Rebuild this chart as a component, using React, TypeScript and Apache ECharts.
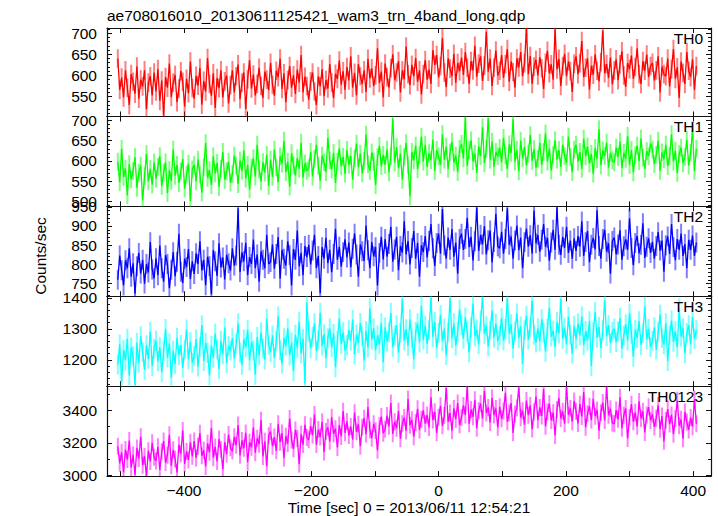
import React, { useEffect, useRef } from 'react';
import * as echarts from 'echarts';

const TITLE = 'ae708016010_20130611125421_wam3_trn_4band_long.qdp';
const X_NAME = 'Time [sec] 0 = 2013/06/11 12:54:21';
const Y_NAME = 'Counts/sec';
const PANEL_NAMES = ['TH0', 'TH1', 'TH2', 'TH3', 'TH0123'];
const COLORS = ['#ff0000', '#00ff00', '#0000ff', '#00ffff', '#ff00ff'];
const Y_MIN = [503, 487, 717, 1115, 2997];
const Y_MAX = [712, 710, 951, 1405, 3548];
const Y_MAJOR = [50, 50, 50, 100, 200];
const Y_SPLIT = [5, 5, 5, 3, 3];
const Y_MINOR = [5, 5, 5, 5, 2];
const X_MIN = -521;
const X_MAX = 428;
const X_LABEL_STEP = 200;
const TIME_START = -504;
const TIME_STEP = 3;
// typical 1-sigma error bar, one per panel
const ERRORS = [22, 22, 26, 32, 52];

const TH0 = [
  640, 566, 595, 548, 612, 571, 530, 603, 585, 557, 621, 545, 590, 574, 612, 520, 583, 598, 553, 607,
  562, 615, 540, 588, 505, 596, 571, 628, 549, 583, 601, 537, 569, 610, 585, 526, 592, 558, 633, 570,
  545, 599, 576, 618, 531, 587, 562, 641, 580, 552, 605, 523, 594, 570, 612, 548, 586, 600, 534, 577,
  612, 560, 598, 626, 544, 583, 607, 521, 591, 636, 569, 602, 553, 580, 618, 575, 547, 609, 590, 565,
  630, 578, 552, 611, 596, 640, 568, 605, 537, 589, 622, 571, 600, 556, 614, 583, 648, 560, 597, 575,
  543, 586, 607, 562, 530, 598, 574, 615, 551, 589, 569, 627, 583, 546, 604, 592, 635, 578, 610, 566,
  620, 588, 645, 571, 606, 553, 627, 598, 580, 612, 561, 639, 593, 617, 575, 600, 664, 582, 609, 548,
  628, 596, 571, 617, 650, 589, 607, 634, 560, 612, 591, 668, 603, 577, 625, 598, 641, 585, 612, 555,
  603, 636, 590, 614, 580, 660, 625, 648, 595, 622, 688, 607, 572, 640, 616, 598, 651, 583, 629, 610,
  642, 601, 655, 618, 580, 634, 612, 670, 597, 628, 645, 587, 623, 703, 609, 640, 575, 618, 659, 600,
  611, 648, 594, 627, 662, 585, 633, 608, 571, 640, 619, 655, 598, 629, 712, 603, 646, 580, 621, 637,
  600, 643, 617, 568, 630, 658, 605, 626, 590, 709, 614, 639, 575, 622, 651, 598, 633, 610, 561, 628,
  645, 603, 629, 681, 596, 618, 640, 567, 623, 602, 650, 611, 586, 631, 706, 605, 627, 594, 642, 579,
  612, 638, 589, 626, 657, 600, 573, 629, 615, 647, 592, 620, 664, 603, 580, 634, 611, 649, 596, 622,
  630, 588, 612, 645, 560, 621, 603, 598, 640, 574, 615, 662, 592, 619, 547, 633, 606, 580, 655, 611,
  596, 638, 566, 622,
];

const TH1 = [
  598, 547, 630, 560, 581, 515, 592, 554, 575, 609, 533, 570, 588, 502, 562, 617, 549, 580, 541, 596,
  556, 585, 612, 538, 571, 596, 520, 577, 550, 628, 563, 590, 545, 574, 605, 531, 566, 593, 500, 579,
  590, 549, 603, 566, 521, 584, 644, 558, 577, 540, 611, 569, 595, 535, 580, 622, 553, 574, 598, 546,
  567, 613, 588, 542, 601, 575, 626, 556, 590, 529, 583, 606, 561, 640, 578, 549, 597, 571, 615, 538,
  603, 560, 628, 584, 547, 611, 593, 650, 572, 598, 536, 619, 589, 564, 607, 580, 645, 558, 594, 575,
  582, 622, 561, 605, 640, 588, 551, 613, 596, 572, 657, 601, 579, 620, 545, 598, 631, 586, 610, 568,
  627, 590, 612, 553, 606, 643, 584, 618, 569, 600, 665, 592, 575, 621, 598, 540, 609, 637, 587, 615,
  590, 628, 571, 612, 705, 596, 634, 582, 618, 553, 609, 644, 590, 512, 622, 601, 638, 579, 614, 660,
  598, 640, 585, 619, 602, 653, 575, 627, 611, 590, 666, 603, 635, 580, 621, 648, 596, 613, 572, 630,
  642, 606, 708, 588, 627, 651, 599, 618, 570, 636, 612, 683, 594, 629, 705, 603, 648, 585, 622, 611,
  632, 596, 657, 613, 580, 641, 620, 703, 598, 627, 574, 650, 606, 635, 589, 618, 664, 600, 629, 583,
  605, 645, 590, 622, 668, 598, 631, 576, 615, 651, 603, 627, 585, 640, 612, 595, 660, 610, 572, 628,
  640, 598, 622, 580, 655, 611, 636, 593, 617, 568, 632, 604, 679, 589, 626, 612, 645, 583, 620, 601,
  596, 633, 610, 648, 582, 620, 605, 662, 590, 627, 571, 614, 638, 599, 655, 608, 580, 624, 612, 643,
  628, 592, 615, 650, 575, 621, 604, 640, 587, 612, 666, 598, 625, 570, 617, 633, 594, 610, 652, 588,
  620, 676, 575, 630,
];

const TH2 = [
  760, 823, 785, 745, 811, 790, 842, 768, 803, 724, 795, 830, 776, 812, 750, 801, 779, 858, 787, 764,
  816, 772, 849, 790, 755, 824, 801, 738, 786, 832, 769, 807, 880, 781, 752, 815, 793, 840, 762, 808,
  775, 829, 801, 860, 784, 812, 746, 820, 795, 722, 837, 808, 770, 855, 792, 818, 761, 825, 803, 784,
  842, 797, 823, 946, 780, 831, 808, 856, 772, 819, 801, 865, 790, 826, 755, 834, 812, 790, 877, 801,
  806, 852, 789, 827, 871, 763, 838, 815, 797, 860, 824, 745, 840, 812, 888, 795, 830, 772, 848, 819,
  851, 800, 836, 877, 790, 822, 725, 845, 815, 869, 803, 838, 780, 827, 893, 812, 846, 794, 832, 865,
  818, 857, 793, 841, 880, 826, 768, 852, 834, 809, 901, 837, 790, 858, 821, 845, 745, 830, 872, 813,
  866, 820, 853, 898, 807, 839, 872, 785, 848, 831, 912, 826, 861, 800, 843, 887, 815, 856, 768, 850,
  832, 874, 818, 861, 905, 842, 796, 856, 880, 828, 944, 849, 815, 870, 838, 892, 820, 857, 776, 866,
  880, 838, 866, 921, 845, 872, 810, 860, 948, 835, 877, 852, 900, 826, 863, 888, 805, 858, 932, 847,
  842, 885, 828, 866, 946, 851, 873, 815, 862, 901, 837, 870, 790, 858, 893, 846, 876, 828, 940, 855,
  877, 833, 864, 905, 846, 869, 810, 857, 890, 838, 949, 851, 825, 872, 843, 898, 830, 862, 815, 868,
  835, 874, 846, 912, 822, 858, 887, 806, 851, 869, 839, 941, 848, 815, 866, 890, 833, 855, 776, 861,
  870, 826, 852, 889, 812, 847, 865, 838, 920, 843, 798, 856, 874, 829, 851, 907, 817, 846, 868, 830,
  859, 815, 848, 884, 836, 862, 781, 850, 873, 827, 905, 845, 811, 866, 838, 880, 822, 853, 790, 864,
  838, 875, 822, 857,
];

const TH3 = [
  1185, 1250, 1130, 1232, 1198, 1268, 1150, 1240, 1212, 1118, 1255, 1190, 1276, 1225, 1168, 1247, 1203, 1291, 1180, 1236,
  1262, 1195, 1241, 1160, 1228, 1300, 1207, 1253, 1142, 1230, 1186, 1271, 1215, 1248, 1174, 1233, 1298, 1201, 1258, 1190,
  1213, 1267, 1178, 1240, 1312, 1196, 1255, 1222, 1150, 1246, 1207, 1285, 1233, 1170, 1262, 1218, 1304, 1189, 1245, 1230,
  1270, 1205, 1252, 1318, 1223, 1184, 1266, 1241, 1297, 1198, 1258, 1230, 1152, 1274, 1215, 1289, 1237, 1201, 1333, 1249,
  1224, 1279, 1206, 1262, 1340, 1231, 1188, 1270, 1245, 1302, 1214, 1256, 1163, 1281, 1239, 1323, 1220, 1268, 1123, 1385,
  1290, 1237, 1274, 1318, 1229, 1265, 1352, 1246, 1283, 1205, 1270, 1301, 1240, 1284, 1176, 1262, 1334, 1251, 1289, 1230,
  1248, 1296, 1262, 1330, 1217, 1281, 1254, 1319, 1276, 1198, 1293, 1240, 1366, 1265, 1302, 1231, 1279, 1250, 1318, 1192,
  1305, 1260, 1289, 1352, 1241, 1278, 1312, 1223, 1286, 1395, 1262, 1299, 1245, 1331, 1270, 1202, 1290, 1318, 1256, 1375,
  1265, 1310, 1251, 1296, 1400, 1274, 1322, 1238, 1288, 1345, 1260, 1301, 1215, 1289, 1398, 1270, 1318, 1246, 1292, 1362,
  1312, 1268, 1337, 1290, 1224, 1305, 1381, 1276, 1298, 1250, 1326, 1402, 1284, 1309, 1243, 1295, 1359, 1271, 1317, 1262,
  1278, 1336, 1262, 1300, 1398, 1284, 1315, 1236, 1292, 1350, 1270, 1308, 1187, 1296, 1342, 1265, 1305, 1391, 1281, 1256,
  1302, 1260, 1331, 1287, 1226, 1300, 1368, 1275, 1294, 1242, 1322, 1285, 1397, 1268, 1304, 1250, 1339, 1281, 1220, 1310,
  1266, 1318, 1279, 1340, 1247, 1293, 1262, 1325, 1180, 1289, 1355, 1271, 1306, 1238, 1297, 1392, 1276, 1312, 1254, 1290,
  1301, 1257, 1292, 1335, 1236, 1278, 1315, 1262, 1350, 1284, 1210, 1297, 1270, 1325, 1248, 1286, 1372, 1265, 1300, 1241,
  1262, 1305, 1233, 1290, 1346, 1271, 1250, 1318, 1196, 1280, 1327, 1258, 1293, 1240, 1366, 1275, 1302, 1221, 1287, 1312,
  1250, 1338, 1268, 1296,
];

const TH0123 = [
  3180, 3075, 3142, 3020, 3160, 3098, 3215, 3050, 3128, 3006, 3170, 3105, 3238, 3064, 3119, 2998, 3152, 3087, 3201, 3112,
  3090, 3177, 3035, 3146, 3212, 3080, 3125, 3250, 3061, 3158, 3102, 3020, 3190, 3134, 3276, 3072, 3148, 3096, 3204, 3118,
  3212, 3108, 3180, 3260, 3122, 3155, 3056, 3198, 3143, 3291, 3110, 3176, 3087, 3224, 3160, 3040, 3206, 3132, 3252, 3170,
  3150, 3238, 3186, 3310, 3124, 3215, 3168, 3262, 3082, 3204, 3173, 3296, 3140, 3229, 3192, 3340, 3117, 3210, 3058, 3244,
  3270, 3180, 3236, 3152, 3318, 3205, 3261, 3108, 3242, 3196, 3350, 3218, 3164, 3280, 3227, 3070, 3255, 3190, 3312, 3234,
  3220, 3304, 3248, 3375, 3190, 3282, 3236, 3330, 3145, 3270, 3296, 3210, 3358, 3255, 3288, 3172, 3310, 3240, 3395, 3262,
  3332, 3245, 3301, 3220, 3386, 3268, 3315, 3180, 3296, 3352, 3254, 3420, 3280, 3230, 3318, 3276, 3155, 3305, 3362, 3260,
  3284, 3368, 3302, 3445, 3256, 3330, 3290, 3395, 3226, 3318, 3356, 3274, 3470, 3309, 3342, 3238, 3325, 3410, 3280, 3346,
  3400, 3318, 3372, 3295, 3480, 3340, 3391, 3262, 3358, 3428, 3305, 3368, 3536, 3330, 3384, 3275, 3412, 3346, 3445, 3310,
  3356, 3430, 3372, 3545, 3318, 3405, 3360, 3465, 3290, 3398, 3442, 3350, 3520, 3384, 3418, 3326, 3476, 3372, 3412, 3296,
  3422, 3348, 3396, 3508, 3330, 3384, 3445, 3262, 3378, 3414, 3540, 3355, 3398, 3312, 3460, 3370, 3430, 3285, 3390, 3485,
  3340, 3418, 3365, 3530, 3302, 3392, 3440, 3338, 3386, 3246, 3405, 3476, 3350, 3394, 3318, 3545, 3372, 3412, 3330, 3458,
  3395, 3320, 3438, 3362, 3512, 3296, 3380, 3425, 3340, 3470, 3364, 3402, 3275, 3386, 3448, 3338, 3544, 3370, 3410, 3322,
  3318, 3402, 3345, 3480, 3290, 3370, 3412, 3228, 3356, 3438, 3330, 3388, 3302, 3455, 3350, 3394, 3264, 3372, 3420, 3338,
  3376, 3298, 3352, 3430, 3284, 3365, 3210, 3338, 3408, 3316, 3372, 3254, 3350, 3462, 3305, 3345, 3226, 3390, 3328, 3280,
  3356, 3300, 3468, 3318,
];

const SERIES = [TH0, TH1, TH2, TH3, TH0123];

const FONT = "'Liberation Sans', Arial, Helvetica, sans-serif";
const FS = 15.5;
const W = 718;
const H = 516;
const LEFT = 107;
const RIGHT = 7;
const TOPS = [28, 116.5, 206.4, 296.3, 386.2];
const HEIGHTS = [88.5, 89.9, 89.9, 89.9, 89.9];
const FRAME = '#111';

function fmtNum(v: number): string {
  const s = String(Math.round(v));
  return v < 0 ? '\u2212' + s.slice(1) : s;
}

export default function App() {
  const ref = useRef<HTMLDivElement>(null);
  useEffect(() => {
    if (!ref.current) return;
    const chart = echarts.init(ref.current, undefined, { renderer: 'svg', width: W, height: H });
    const grids: any[] = [];
    const xAxes: any[] = [];
    const yAxes: any[] = [];
    const series: any[] = [];
    const graphics: any[] = [];

    for (let i = 0; i < 5; i++) {
      grids.push({ left: LEFT, right: RIGHT, top: TOPS[i], height: HEIGHTS[i], show: false });
      const axisLine = { show: true, onZero: false, lineStyle: { color: FRAME, width: 1.2 } };
      const xBase = {
        type: 'value',
        gridIndex: i,
        min: X_MIN,
        max: X_MAX,
        splitNumber: 9,
        axisLine,
        axisTick: { show: true, inside: true, length: 5, lineStyle: { color: FRAME, width: 1 } },
        splitLine: { show: false },
      };
      xAxes.push({
        ...xBase,
        position: 'bottom',
        axisLabel: {
          show: i === 4,
          color: '#000',
          fontSize: FS,
          fontFamily: FONT,
          margin: 6,
          formatter: (v: number) => (Math.abs(v % X_LABEL_STEP) < 1e-6 ? fmtNum(v) : ''),
        },
      });
      xAxes.push({ ...xBase, position: 'top', axisLabel: { show: false } });

      const major = Y_MAJOR[i];
      const yBase = {
        type: 'value',
        gridIndex: i,
        min: Y_MIN[i],
        max: Y_MAX[i],
        splitNumber: Y_SPLIT[i],
        axisLine,
        axisTick: { show: true, inside: true, length: 5, lineStyle: { color: FRAME, width: 1 } },
        minorTick: { show: true, splitNumber: Y_MINOR[i], length: 3, lineStyle: { color: FRAME, width: 1 } },
        splitLine: { show: false },
        minorSplitLine: { show: false },
      };
      yAxes.push({
        ...yBase,
        position: 'left',
        axisLabel: {
          show: true,
          color: '#000',
          fontSize: FS,
          fontFamily: FONT,
          margin: 10,
          formatter: (v: number) => (Math.abs(v % major) < 1e-6 ? fmtNum(v) : ''),
        },
      });
      yAxes.push({ ...yBase, position: 'right', axisLabel: { show: false } });

      const vals = SERIES[i];
      const pts = vals.map((v, k) => [TIME_START + k * TIME_STEP, v]);
      const err = ERRORS[i];
      const color = COLORS[i];
      series.push({
        type: 'custom',
        xAxisIndex: 2 * i,
        yAxisIndex: 2 * i,
        data: pts,
        silent: true,
        clip: true,
        z: 1,
        renderItem: (_params: any, api: any) => {
          const t = api.value(0);
          const v = api.value(1);
          const p1 = api.coord([t, v - err]);
          const p2 = api.coord([t, v + err]);
          return {
            type: 'line',
            shape: { x1: p1[0], y1: p1[1], x2: p2[0], y2: p2[1] },
            style: { stroke: color, lineWidth: 2, opacity: 0.5 },
          };
        },
      });
      series.push({
        type: 'line',
        xAxisIndex: 2 * i,
        yAxisIndex: 2 * i,
        data: pts,
        showSymbol: false,
        symbol: 'none',
        silent: true,
        clip: true,
        lineStyle: { color, width: 1.3 },
        z: 2,
      });

      graphics.push({
        type: 'text',
        right: W - 703,
        top: TOPS[i] + 2,
        z: 10,
        style: { text: PANEL_NAMES[i], fill: '#000', font: `${FS}px ${FONT}` },
      });
    }

    graphics.push({
      type: 'text',
      x: LEFT,
      y: 15,
      style: { text: TITLE, fill: '#000', font: `${FS}px ${FONT}`, textVerticalAlign: 'middle', textAlign: 'left' },
    });
    graphics.push({
      type: 'text',
      x: (LEFT + (W - RIGHT)) / 2,
      y: 507,
      style: { text: X_NAME, fill: '#000', font: `${FS}px ${FONT}`, textVerticalAlign: 'middle', textAlign: 'center' },
    });
    graphics.push({
      type: 'text',
      x: 40,
      y: 256,
      rotation: Math.PI / 2,
      style: { text: Y_NAME, fill: '#000', font: `${FS}px ${FONT}`, textVerticalAlign: 'middle', textAlign: 'center' },
    });

    chart.setOption({
      animation: false,
      backgroundColor: '#fff',
      grid: grids,
      xAxis: xAxes,
      yAxis: yAxes,
      series,
      graphic: graphics,
    });
    return () => chart.dispose();
  }, []);
  return <div ref={ref} style={{ position: 'absolute', left: 0, top: 0, width: W, height: H }} />;
}
